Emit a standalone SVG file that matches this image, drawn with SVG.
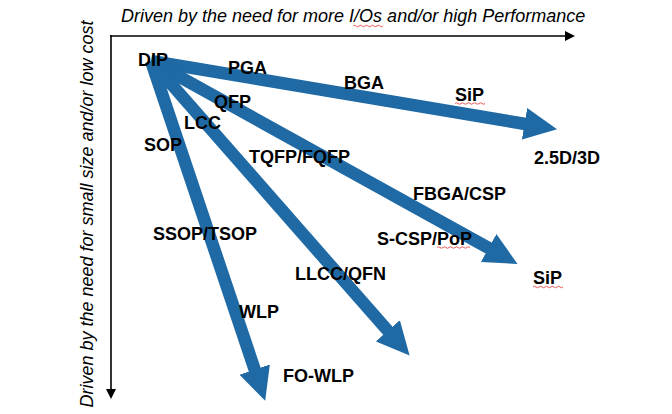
<svg xmlns="http://www.w3.org/2000/svg" width="672" height="414" viewBox="0 0 672 414">
<style>
.lbl{font-family:"Liberation Sans",Arial,sans-serif;font-weight:bold;font-size:18px;fill:#000}
.ax{font-family:"Liberation Sans",Arial,sans-serif;font-style:italic;font-size:18px;fill:#000}
.shaft{stroke:#1f6aa5;stroke-width:12.5;fill:none;marker-end:url(#head)}
.axis{stroke:#000;stroke-width:1.6;fill:none}
.sq{stroke:#e03030;stroke-width:0.8;fill:none}
</style>
<defs>
<marker id="head" markerUnits="userSpaceOnUse" markerWidth="34" markerHeight="33" refX="1" refY="16" orient="auto">
<path d="M0,0 L33,16 L0,32 z" fill="#1f6aa5"/>
</marker>
<marker id="axhead" markerUnits="userSpaceOnUse" markerWidth="11" markerHeight="11" refX="1" refY="5" orient="auto">
<path d="M0,0 L10,5 L0,10 z" fill="#000"/>
</marker>
</defs>
<rect width="672" height="414" fill="#fff"/>
<g id="axes">
<path class="axis" d="M110,36 H566" marker-end="url(#axhead)"/>
<path class="axis" d="M111,35.2 V390" marker-end="url(#axhead)"/>
<text class="ax" x="121" y="22">Driven by the need for more I/Os and/or high Performance</text>
<text class="ax" transform="translate(93,214) rotate(-90)" text-anchor="middle">Driven by the need for small size and/or low cost</text>
<path class="sq" d="M353,26 q1.5,-1.5 3,0 t3,0 t3,0 t3,0 t3,0 t3,0 t3,0 t3,0 t3,0 t3,0"/>
</g>
<g id="connectors">
<line class="shaft" x1="151" y1="61" x2="525.5" y2="124"/>
<line class="shaft" x1="151" y1="61" x2="489.5" y2="248.5"/>
<line class="shaft" x1="151" y1="61" x2="388.5" y2="331.5"/>
<line class="shaft" x1="151" y1="61" x2="255" y2="370.5"/>
</g>
<g id="n-dip"><text class="lbl" x="138" y="66">DIP</text></g>
<g id="n-pga"><text class="lbl" x="228" y="74">PGA</text></g>
<g id="n-bga"><text class="lbl" x="344" y="89">BGA</text></g>
<g id="n-sip1"><text class="lbl" x="455" y="101">SiP</text>
<path class="sq" d="M455,103.5 q1.5,-1.5 3,0 t3,0 t3,0 t3,0 t3,0 t3,0 t3,0 t3,0 t3,0 t3,0"/></g>
<g id="n-25d3d"><text class="lbl" x="534" y="164">2.5D/3D</text></g>
<g id="n-qfp"><text class="lbl" x="214" y="108">QFP</text></g>
<g id="n-lcc"><text class="lbl" x="184" y="129">LCC</text></g>
<g id="n-sop"><text class="lbl" x="144" y="151">SOP</text></g>
<g id="n-tqfp"><text class="lbl" x="249" y="163">TQFP/FQFP</text></g>
<g id="n-fbga"><text class="lbl" x="413" y="200">FBGA/CSP</text></g>
<g id="n-ssop"><text class="lbl" x="153" y="240">SSOP/TSOP</text></g>
<g id="n-scsp"><text class="lbl" x="377" y="245">S-CSP/PoP</text>
<path class="sq" d="M437,247.5 q1.5,-1.5 3,0 t3,0 t3,0 t3,0 t3,0 t3,0 t3,0 t3,0 t3,0 t3,0 t3,0"/></g>
<g id="n-sip2"><text class="lbl" x="533" y="284">SiP</text>
<path class="sq" d="M533,287 q1.5,-1.5 3,0 t3,0 t3,0 t3,0 t3,0 t3,0 t3,0 t3,0 t3,0 t3,0"/></g>
<g id="n-llcc"><text class="lbl" x="295" y="280">LLCC/QFN</text></g>
<g id="n-wlp"><text class="lbl" x="239" y="318">WLP</text></g>
<g id="n-fowlp"><text class="lbl" x="283" y="382">FO-WLP</text></g>
</svg>
